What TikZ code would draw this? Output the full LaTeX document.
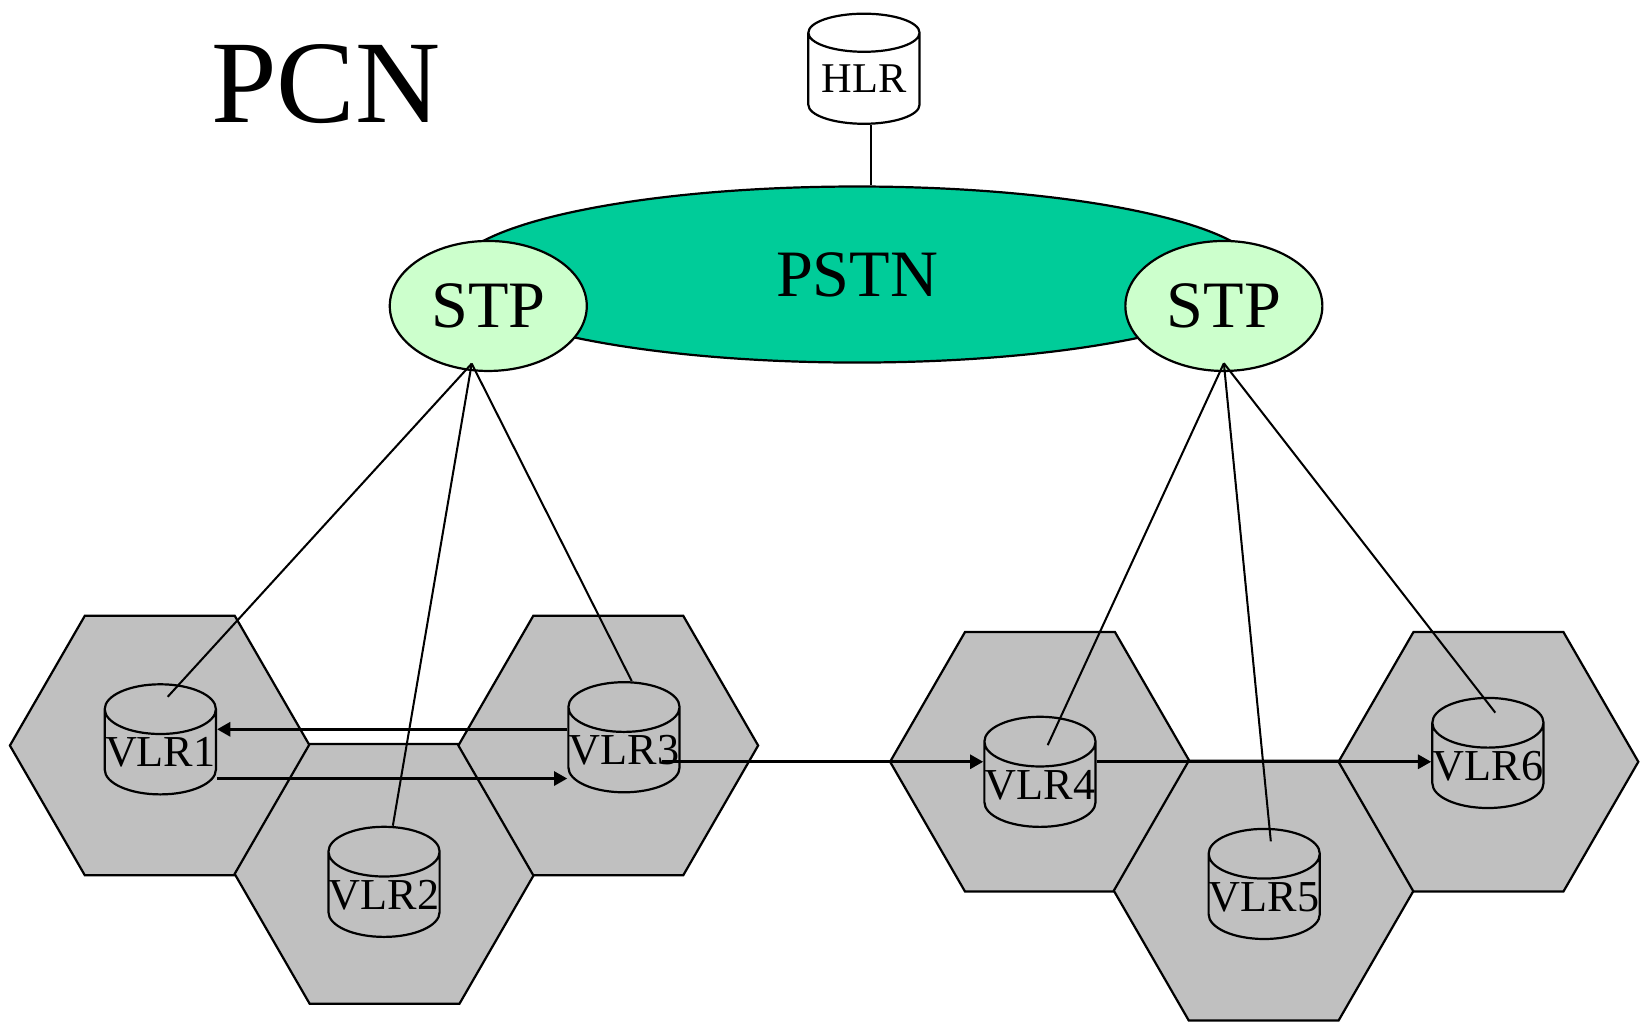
\documentclass[tikz,border=0pt]{standalone}
\usepackage{fontspec}
\setmainfont{Liberation Serif}
\usetikzlibrary{shapes.geometric,arrows.meta}
\definecolor{cellgray}{RGB}{192,192,192}
\definecolor{pstngreen}{RGB}{0,204,153}
\definecolor{stpgreen}{RGB}{204,255,204}

\begin{document}
\begin{tikzpicture}[x=0.1mm,y=-0.1mm,line width=0.6pt,
   cell/.style={regular polygon,regular polygon sides=6,minimum size=81.4pt,inner sep=0pt,draw=black,fill=cellgray},
   db/.style={cylinder,shape border rotate=90,aspect=0.45,draw=black,minimum width=30.2pt,minimum height=29.9pt,inner sep=0pt,anchor=north,font=\fontsize{12}{14}\selectfont},
   link/.style={draw=black,line width=0.55pt},
   flow/.style={draw=black,line width=0.85pt,-{Triangle[length=3.6pt,width=3.8pt]}}]
   \useasboundingbox (0,0) rectangle (1568,975);
   \node[font=\fontsize{32}{38}\selectfont] (title) at (311,80) {PCN};
   % cells
   \begin{scope}[every node/.style={cell}]
    \node (c1) at (152.5,711.5) {};
    \node (c2) at (367,834) {};
    \node (c3) at (580.5,711.5) {};
    \node (c4) at (992.5,727) {};
    \node (c5) at (1206,850) {};
    \node (c6) at (1420.5,727) {};
   \end{scope}
   % databases
   \begin{scope}[every node/.style={db}]
    \node[font=\fontsize{11.5}{14}\selectfont] (hlr) at (824.5,12) {HLR};
    \node (vlr1) at (153,652) {VLR1};
    \node (vlr2) at (366.5,788) {VLR2};
    \node (vlr3) at (595.5,650) {VLR3};
    \node (vlr4) at (992.5,683) {VLR4};
    \node (vlr5) at (1206.5,790) {VLR5};
    \node (vlr6) at (1420,665) {VLR6};
   \end{scope}
   % core network
   \node[ellipse,draw=black,fill=pstngreen,minimum width=219.6pt,minimum height=47.8pt,inner sep=0pt,font=\fontsize{18}{22}\selectfont] (pstn) at (818,262) {PSTN};
   \begin{scope}[every node/.style={ellipse,draw=black,fill=stpgreen,minimum width=53.5pt,minimum height=35.3pt,inner sep=0pt,font=\fontsize{18}{22}\selectfont}]
    \node (stpl) at (466,292) {STP};
    \node (stpr) at (1168,292) {STP};
   \end{scope}
   \coordinate (hubl) at ([xshift=-4.5pt,yshift=2.3pt]stpl.south);
   \coordinate (hubr) at ([yshift=2.4pt]stpr.south);
   \coordinate (rowa) at (0,696);
   \coordinate (rowb) at (0,743);
   \coordinate (rowc) at (0,727);
   \draw[link] ([xshift=2pt]hlr.south) -- ([xshift=2pt]hlr.south |- pstn.north);
   \begin{scope}[every edge/.style={link}]
    \draw (hubl) edge ([xshift=2pt,yshift=-3.7pt]vlr1.north);
    \draw (hubl) edge ([xshift=2.4pt]vlr2.north);
    \draw (hubl) edge ([xshift=2.1pt]vlr3.north);
    \draw (hubr) edge ([xshift=2.1pt,yshift=-8pt]vlr4.north);
    \draw (hubr) edge ([xshift=1.8pt,yshift=-3.7pt]vlr5.north);
    \draw (hubr) edge ([xshift=2pt,yshift=-4.3pt]vlr6.north);
   \end{scope}
   % moves between cells
   \draw[flow] (vlr3.west |- rowa) -- (vlr1.east |- rowa);
   \draw[flow] (vlr1.east |- rowb) -- (vlr3.west |- rowb);
   \draw[flow] ([xshift=-5pt]vlr3.east |- rowc) -- (vlr4.west |- rowc);
   \draw[flow] (vlr4.east |- rowc) -- (vlr6.west |- rowc);
\end{tikzpicture}
\end{document}
